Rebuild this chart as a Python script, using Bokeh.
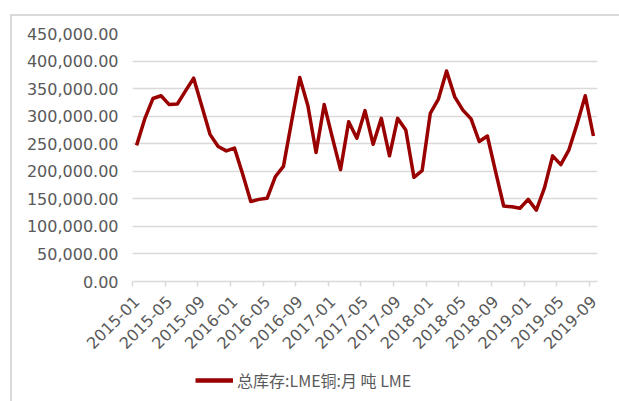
import math
import pandas as pd
from bokeh.plotting import figure
from bokeh.layouts import column
from bokeh.models import (Range1d, FixedTicker, NumeralTickFormatter, Legend,
                          LegendItem, ColumnDataSource)
from bokeh.embed import file_html
from bokeh.resources import INLINE

# Monthly LME copper total stocks (tonnes), 2015-01 .. 2019-09
months = [str(p) for p in pd.period_range("2015-01", "2019-09", freq="M")]
stock = [
    247000, 295000, 332000, 337000, 321000, 322000, 346000, 369000, 318000, 267000,
    245000, 237000, 242000, 195000, 145000, 149000, 151000, 190000, 209000, 290000,
    370000, 319000, 234000, 321000, 261000, 203000, 290000, 260000, 310000, 249000,
    296000, 228000, 296000, 275000, 189000, 201000, 305000, 331000, 382000, 335000,
    311000, 295000, 254000, 264000, 200000, 137000, 135500, 133000, 149000, 129500,
    170000, 228000, 212000, 239000, 286000, 337000, 264000,
]
series_name = "总库存:LME铜:月 吨 LME"
y_ticks = list(range(0, 450001, 50000))
label_step = 4

x = list(range(len(months)))
src = ColumnDataSource(dict(x=x, month=months, stock=stock))

GRAY_TXT = "#595959"
GRAY_LINE = "#d9d9d9"
RED = "#990000"
LINE_W = 3.5

p = figure(width=619, height=362, output_backend="svg", toolbar_location=None,
           x_range=Range1d(-0.5, len(months) - 0.5), y_range=Range1d(0, 450000),
           min_border_left=132, min_border_right=22, min_border_top=33,
           min_border_bottom=81)
p.outline_line_color = None
p.background_fill_color = "white"
p.border_fill_color = "white"

p.line("x", "stock", source=src, line_color=RED, line_width=LINE_W,
       line_join="round")

# y axis: plain labels, no ticks or axis line
p.yaxis.ticker = FixedTicker(ticks=y_ticks)
p.yaxis.formatter = NumeralTickFormatter(format="0,0.00")
p.yaxis.axis_line_color = None
p.yaxis.major_tick_line_color = None
p.yaxis.minor_tick_line_color = None
p.yaxis.major_tick_out = 0
p.yaxis.major_label_standoff = 14
p.yaxis.major_label_text_font = "DejaVu Sans"
p.yaxis.major_label_text_font_size = "16px"
p.yaxis.major_label_text_color = GRAY_TXT

# x axis: labels every 4th month at the category centre, tick marks on boundaries
label_pos = x[::label_step]
p.xaxis.ticker = FixedTicker(ticks=label_pos,
                             minor_ticks=[i - 0.5 for i in label_pos])
p.xaxis.major_label_overrides = {i: months[i] for i in label_pos}
p.xaxis.major_label_orientation = math.pi / 4
p.xaxis.major_tick_line_color = None
p.xaxis.major_tick_out = 0
p.xaxis.major_tick_in = 0
p.xaxis.minor_tick_in = 0
p.xaxis.minor_tick_out = 5
p.xaxis.minor_tick_line_color = GRAY_LINE
p.xaxis.minor_tick_line_width = 1.5
p.xaxis.axis_line_color = GRAY_LINE
p.xaxis.axis_line_width = 1.5
p.xaxis.major_label_standoff = 12
p.xaxis.major_label_text_font = "DejaVu Sans"
p.xaxis.major_label_text_font_size = "16px"
p.xaxis.major_label_text_color = GRAY_TXT

p.xgrid.grid_line_color = None
p.ygrid.grid_line_color = GRAY_LINE
p.ygrid.grid_line_width = 1.5

# legend strip underneath the chart (its frame lines up with the chart frame);
# the key line shares the series source but lies outside this strip's view
lp = figure(width=619, height=39, output_backend="svg", toolbar_location=None,
            x_range=Range1d(0, 1), y_range=Range1d(0, 1), min_border=0)
lp.axis.visible = False
lp.grid.visible = False
lp.outline_line_color = None
lp.border_fill_color = "white"
key = lp.line("x", "stock", source=src, line_color=RED, line_width=4.5)

legend = Legend(items=[LegendItem(label=series_name, renderers=[key])],
                location=(63, 9))
legend.border_line_color = None
legend.background_fill_alpha = 0
legend.label_text_font = "Noto Sans CJK SC"
legend.label_text_font_size = "16px"
legend.label_text_color = GRAY_TXT
legend.glyph_width = 38
legend.glyph_height = 16
legend.label_standoff = 4
legend.padding = 0
legend.margin = 0
legend.spacing = 0
lp.add_layout(legend)

layout = column(p, lp, spacing=0)

html = file_html(layout, INLINE)
# thin grey frame along the top and left of the chart area
frame_div = ('<div style="position:fixed;left:10px;top:14px;width:609px;'
             'height:387px;box-sizing:border-box;border-left:2px solid #d9d9d9;'
             'border-top:2px solid #d9d9d9;pointer-events:none;z-index:1000;"></div>')
cut = html.rfind("</body>")
if cut >= 0:
    html = html[:cut] + frame_div + html[cut:]
open("out.html", "w").write(html)
